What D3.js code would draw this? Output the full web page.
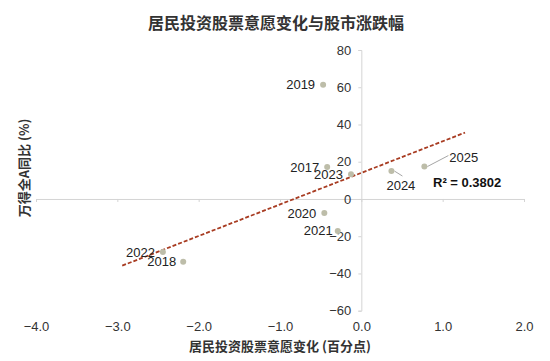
<!DOCTYPE html>
<html>
<head>
<meta charset="utf-8">
<script src="https://cdn.jsdelivr.net/npm/d3@7"></script>
<style>
body { margin: 0; background: #fff; }
text { font-family: "Liberation Sans", Arial, sans-serif; }
.cjk { font-family: "Noto Sans CJK SC", sans-serif; }
</style>
</head>
<body>
<div id="chart"></div>
<script>
var years = ['2017', '2018', '2019', '2020', '2021', '2022', '2023', '2024', '2025'];
var willChange = [-0.42, -2.19, -0.47, -0.455, -0.29, -2.44, -0.127, 0.37, 0.775];
var marketYoY = [17.2, -33.7, 61.3, -7.5, -17.2, -28.5, 13.3, 15.0, 17.4];
var xTicks = [-4, -3, -2, -1, 0, 1, 2];
var yTicks = [-60, -40, -20, 0, 20, 40, 60, 80];
var rSquared = 0.3802;

var width = 550;
var height = 361;

// where each year label sits relative to its dot
var labelPos = {
	'2017': {dx: -8, dy: 0, anchor: 'end'},
	'2018': {dx: -7, dy: 0, anchor: 'end'},
	'2019': {dx: -8, dy: 0, anchor: 'end'},
	'2020': {dx: -8, dy: 0, anchor: 'end'},
	'2021': {dx: -5, dy: -1, anchor: 'end'},
	'2022': {dx: -8, dy: 0, anchor: 'end'},
	'2023': {dx: -8, dy: 0, anchor: 'end'},
	'2024': {dx: -5, dy: 14, anchor: 'start', lx: 11, ly: 5},
	'2025': {dx: 25, dy: -9, anchor: 'start', lx: 24, ly: -11}
};

var data = years.map(function(d, i){
	return {year: d, x: willChange[i], y: marketYoY[i]};
});

var x = d3.scaleLinear().domain([-4, 2]).range([36, 524]);
var y = d3.scaleLinear().domain([-60, 80]).range([310.7, 50]);

var svg = d3.select('#chart')
	.append('svg')
	.attr('width', width)
	.attr('height', height);

svg.append('text')
	.attr('class', 'cjk')
	.attr('x', 276)
	.attr('y', 23)
	.attr('dy', '0.35em')
	.attr('text-anchor', 'middle')
	.style('font-size', '16px')
	.style('font-weight', 'bold')
	.style('fill', '#333')
	.text('居民投资股票意愿变化与股市涨跌幅');

// x axis sits on y = 0, labels down at the bottom
var xAxis = svg.append('g')
	.attr('transform', 'translate(0,' + y(0) + ')')
	.call(d3.axisBottom(x)
		.tickValues(xTicks)
		.tickSize(3)
		.tickSizeOuter(3)
		.tickPadding(y(-60) - y(0) + 8)
		.tickFormat(d3.format('.1f')));

// y axis sits on x = 0
var yAxis = svg.append('g')
	.attr('transform', 'translate(' + x(0) + ',0)')
	.call(d3.axisLeft(y)
		.tickValues(yTicks)
		.tickSize(3)
		.tickSizeOuter(3)
		.tickPadding(7));

[xAxis, yAxis].forEach(function(g){
	g.select('.domain').attr('stroke', '#d4d4d4');
	g.selectAll('.tick line').attr('stroke', '#d4d4d4');
	g.selectAll('.tick text')
		.style('font-size', '13px')
		.style('fill', '#333')
		.style('font-family', '"Liberation Sans", Arial, sans-serif');
});

svg.append('text')
	.attr('class', 'cjk')
	.attr('x', 280)
	.attr('y', 346)
	.attr('dy', '0.35em')
	.attr('text-anchor', 'middle')
	.style('font-size', '13px')
	.style('font-weight', 'bold')
	.style('fill', '#333')
	.text('居民投资股票意愿变化 (百分点)');

svg.append('text')
	.attr('class', 'cjk')
	.attr('transform', 'translate(24,168) rotate(-90)')
	.attr('dy', '0.35em')
	.attr('text-anchor', 'middle')
	.style('font-size', '13px')
	.style('font-weight', 'bold')
	.style('fill', '#333')
	.text('万得全A同比 (%)');

// linear trend, forecast 0.5 either side like the source
var mx = d3.mean(data, function(d){ return d.x; });
var my = d3.mean(data, function(d){ return d.y; });
var sxy = d3.sum(data, function(d){ return (d.x - mx) * (d.y - my); });
var sxx = d3.sum(data, function(d){ return (d.x - mx) * (d.x - mx); });
var slope = sxy / sxx;
var intercept = my - slope * mx;
var ext = d3.extent(data, function(d){ return d.x; });
var x0 = ext[0] - 0.5, x1 = ext[1] + 0.5;

svg.append('line')
	.attr('x1', x(x0))
	.attr('y1', y(intercept + slope * x0))
	.attr('x2', x(x1))
	.attr('y2', y(intercept + slope * x1))
	.attr('stroke', '#a83c22')
	.attr('stroke-width', 1.8)
	.attr('stroke-dasharray', '4,2');

var pts = svg.selectAll('.pt')
	.data(data)
	.enter()
	.append('g')
	.attr('class', 'pt')
	.attr('transform', function(d){
		return 'translate(' + x(d.x) + ',' + y(d.y) + ')';
	});

pts.filter(function(d){ return labelPos[d.year].lx; })
	.append('line')
	.attr('x1', 3)
	.attr('y1', 0)
	.attr('x2', function(d){ return labelPos[d.year].lx; })
	.attr('y2', function(d){ return labelPos[d.year].ly; })
	.attr('stroke', '#a6a6a6')
	.attr('stroke-width', 1);

pts.append('circle')
	.attr('r', 3)
	.attr('fill', '#bdbda9');

pts.append('text')
	.attr('x', function(d){ return labelPos[d.year].dx; })
	.attr('y', function(d){ return labelPos[d.year].dy; })
	.attr('dy', '0.35em')
	.attr('text-anchor', function(d){ return labelPos[d.year].anchor; })
	.style('font-size', '13px')
	.style('fill', '#222')
	.text(function(d){ return d.year; });

svg.append('text')
	.attr('x', 433)
	.attr('y', 182)
	.attr('dy', '0.35em')
	.style('font-size', '13px')
	.style('font-weight', 'bold')
	.style('fill', '#111')
	.text('R² = ' + rSquared.toFixed(4));
</script>
</body>
</html>
